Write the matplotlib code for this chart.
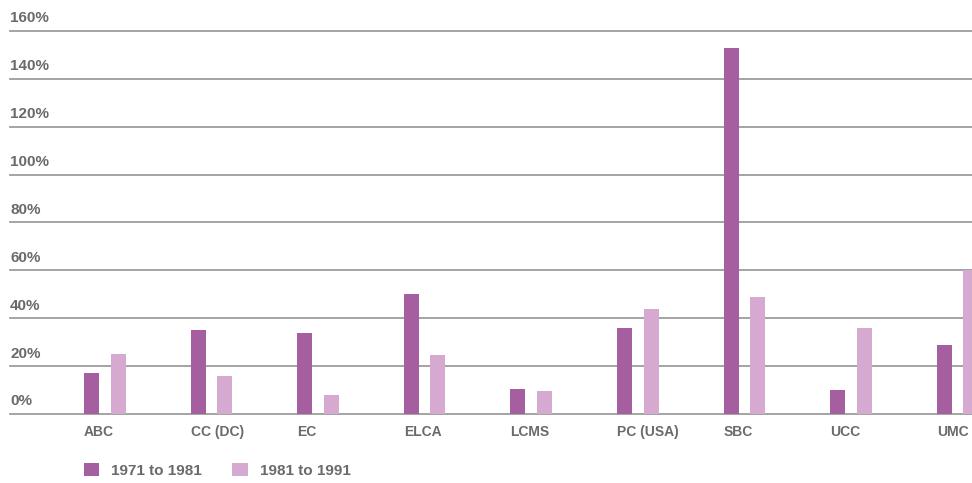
import numpy as np
import matplotlib.pyplot as plt
from matplotlib.transforms import blended_transform_factory, offset_copy

# percent change in membership by denomination
denoms = ["ABC", "CC (DC)", "EC", "ELCA", "LCMS", "PC (USA)", "SBC", "UCC", "UMC"]
change_71_81 = [17, 35, 34, 50, 10.5, 36, 153, 10, 29]
change_81_91 = [25, 16, 8, 24.5, 9.5, 44, 49, 36, 60]
period_labels = ["1971 to 1981", "1981 to 1991"]
y_ticks = [0, 20, 40, 60, 80, 100, 120, 140, 160]

dark = "#a55e9f"
light = "#d6a9d1"
grid_col = "#9c9c9c"
text_col = "#6a6a6a"
font = ["Liberation Sans", "DejaVu Sans"]

fig = plt.figure(figsize=(9.72, 4.83), dpi=100)
W, H = 972, 483
ax = fig.add_axes([10 / W, (H - 414) / H, 962 / W, 383 / H])

x = np.arange(len(denoms))
w = 0.141
off = 0.1245

for v in y_ticks:
    ax.axhline(v, color=grid_col, lw=1.3, zorder=1, clip_on=False)

b1 = ax.bar(x - off, change_71_81, w, color=dark, zorder=2, label=period_labels[0])
b2 = ax.bar(x + off, change_81_91, w, color=light, zorder=2, label=period_labels[1])

ax.set_xlim(-0.889, 8.135)
ax.set_ylim(0, 160)
for s in ax.spines.values():
    s.set_visible(False)

# y labels sit just above each gridline
trans = offset_copy(blended_transform_factory(ax.transAxes, ax.transData),
                    fig=fig, x=0, y=4, units="points")
for v in y_ticks:
    ax.text(0, v, f"{v}%", transform=trans, ha="left", va="bottom",
            fontsize=11, fontweight="bold", color=text_col, family=font)
ax.set_yticks([])

ax.set_xticks(x - off - w / 2)
ax.set_xticklabels(denoms, ha="left", fontsize=10, fontweight="bold",
                   color=text_col, family=font)
ax.tick_params(axis="x", length=0, pad=8)

fig.legend(handles=[b1, b2], labels=period_labels, loc="upper left",
           bbox_to_anchor=(76 / W, (H - 455) / H), ncol=2, frameon=False,
           borderpad=0, handlelength=1.0, handleheight=1.0, handletextpad=0.8,
           columnspacing=2.0, prop={"family": font, "size": 11, "weight": "bold"},
           labelcolor=text_col)

fig.savefig("out.png", dpi=100)
